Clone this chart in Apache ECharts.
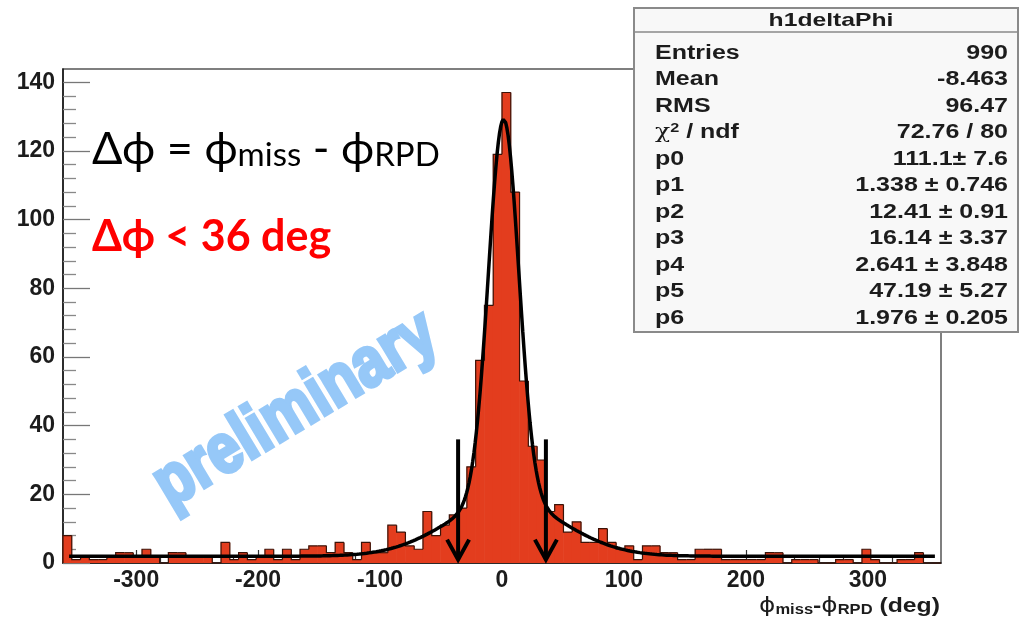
<!DOCTYPE html>
<html>
<head>
<meta charset="utf-8">
<script src="https://cdn.jsdelivr.net/npm/echarts@6/dist/echarts.min.js"></script>
<style>
html,body{margin:0;padding:0;background:#fff;}
#chart{width:1020px;height:619px;}
</style>
</head>
<body>
<div id="chart"></div>
<script>
// ---- data ----
const binLow = -360;          // first bin edge (deg)
const binWidth = 7.2;         // 100 bins over [-360, 360]
const counts = [
  8,1,2,1,1,2,3,3,2,4,
  2,0,3,3,2,2,2,0,6,1,
  3,1,2,4,1,4,1,4,5,5,
  3,6,3,1,6,3,3,11,9,5,
  4,15,8,11,14,16,28,59,75,119,
  137,108,53,34,30,15,17,9,12,6,
  6,10,6,4,5,1,5,5,3,3,
  1,1,4,4,4,1,1,1,1,1,
  3,3,0,1,1,1,0,0,1,1,
  0,4,1,0,0,1,1,3,0,0
];
// fit: gaus(p0,p1,p2) + gaus(p3,p4,p5) + p6 (parameters from the stats box)
const fitParams = [111.1, 1.338, 12.41, 16.14, 2.641, 47.19, 1.976];
const fitRange = [-355, 355];
const cutArrows = [-36, 36];      // arrow x positions (deg)
const arrowTop = 36, arrowTip = 0.4;
const xMajorTicks = [-300,-200,-100,0,100,200,300];
const xMinorTicks = [-340,-320,-280,-260,-240,-220,-180,-160,-140,-120,-80,-60,-40,-20,20,40,60,80,120,140,160,180,220,240,260,280,320,340];
const yMajorTicks = [0,20,40,60,80,100,120,140];
const yMinorTicks = [4,8,12,16,24,28,32,36,44,48,52,56,64,68,72,76,84,88,92,96,104,108,112,116,124,128,132,136];
const statsTitle = 'h1deltaPhi';
const statsLabels = ['Entries','Mean','RMS','χ2 / ndf','p0','p1','p2','p3','p4','p5','p6'];
const statsValues = ['990','-8.463','96.47','72.76 / 80','111.1± 7.6','1.338 ± 0.746','12.41 ± 0.91','16.14 ± 3.37','2.641 ± 3.848','47.19 ± 5.27','1.976 ± 0.205'];

// ---- build series data ----
const binData = counts.map((c, i) => [binLow + i * binWidth, binLow + (i + 1) * binWidth, c]);
function fitFn(x) {
  const p = fitParams;
  return p[0] * Math.exp(-0.5 * Math.pow((x - p[1]) / p[2], 2)) +
         p[3] * Math.exp(-0.5 * Math.pow((x - p[4]) / p[5], 2)) + p[6];
}
const fitData = [];
for (let x = fitRange[0]; x <= fitRange[1] + 1e-9; x += 1) fitData.push([x, fitFn(x)]);

const FILL = '#e33d1e';
const TXT = '#1c1c1c';
const chart = echarts.init(document.getElementById('chart'), null, {renderer: 'canvas'});
const labelFont = {fontFamily: 'Liberation Sans, Arial, sans-serif', fontWeight: 'bold', fontSize: 23, color: TXT};

const statsGraphics = [];
const bx = 634, by = 8, bw = 384, bh = 324;
const SX = 1.25;
statsGraphics.push({type: 'rect', shape: {x: bx, y: by, width: bw, height: bh}, style: {fill: '#f8f8f8', stroke: '#8a8a8a', lineWidth: 2}, z: 100});
statsGraphics.push({type: 'line', shape: {x1: bx, y1: 32, x2: bx + bw, y2: 32}, style: {stroke: '#8a8a8a', lineWidth: 1.5}, z: 101});
statsGraphics.push({type: 'text', x: 831, y: 21, scaleX: 1.3, style: {text: statsTitle, font: 'bold 19px Liberation Sans', fill: TXT, textAlign: 'center', textVerticalAlign: 'middle'}, z: 102});
statsLabels.forEach((lab, i) => {
  const y = 53 + i * 26.5;
  let txt = lab, rich;
  if (lab.indexOf('χ2') === 0) {
    txt = '{chi|χ}{sup|2}{n| / ndf}';
    rich = {chi: {font: '20px DejaVu Serif', fill: TXT}, sup: {font: 'bold 13px Liberation Sans', fill: TXT, verticalAlign: 'top', padding: [0,0,8,0]}, n: {font: 'bold 20px Liberation Sans', fill: TXT}};
  }
  statsGraphics.push({type: 'text', x: 655, y: y, scaleX: SX, style: {text: txt, rich: rich, font: 'bold 20px Liberation Sans', fill: TXT, textAlign: 'left', textVerticalAlign: 'middle'}, z: 102});
  statsGraphics.push({type: 'text', x: 1008, y: y, scaleX: SX, style: {text: statsValues[i], font: 'bold 20px Liberation Sans', fill: TXT, textAlign: 'right', textVerticalAlign: 'middle'}, z: 102});
});

const option = {
  animation: false,
  backgroundColor: '#ffffff',
  grid: {left: 63, right: 79, top: 69, bottom: 56, show: true, borderColor: '#555', borderWidth: 1.5, backgroundColor: 'transparent'},
  xAxis: [{
    type: 'value', min: -360, max: 360, position: 'bottom',
    axisLine: {show: true, onZero: false, lineStyle: {color: '#111', width: 1.5}},
    axisTick: {show: true, inside: true, length: 13, customValues: xMajorTicks, lineStyle: {color: '#333', width: 1.2}},
    axisLabel: Object.assign({show: true, margin: 6, customValues: xMajorTicks}, labelFont),
    splitLine: {show: false}
  }, {
    type: 'value', min: -360, max: 360, position: 'bottom',
    axisLine: {show: false, onZero: false},
    axisTick: {show: true, inside: true, length: 7, customValues: xMinorTicks, lineStyle: {color: '#333', width: 1.2}},
    axisLabel: {show: false},
    splitLine: {show: false}
  }],
  yAxis: [{
    type: 'value', min: 0, max: 143.85, position: 'left',
    axisLine: {show: true, onZero: false, lineStyle: {color: '#111', width: 1.5}},
    axisTick: {show: true, inside: true, length: 27, customValues: yMajorTicks, lineStyle: {color: '#777', width: 1.3}},
    axisLabel: Object.assign({show: true, margin: 8, customValues: yMajorTicks}, labelFont),
    splitLine: {show: false}
  }, {
    type: 'value', min: 0, max: 143.85, position: 'left',
    axisLine: {show: false, onZero: false},
    axisTick: {show: true, inside: true, length: 13, customValues: yMinorTicks, lineStyle: {color: '#888', width: 1.3}},
    axisLabel: {show: false},
    splitLine: {show: false}
  }],
  series: [{
    type: 'custom', name: 'hist', xAxisIndex: 0, yAxisIndex: 0, z: 2,
    data: binData, encode: {x: [0, 1], y: 2},
    renderItem: function (params, api) {
      const a = api.coord([api.value(0), api.value(2)]);
      const b = api.coord([api.value(1), 0]);
      return {type: 'rect', shape: {x: a[0] - 0.3, y: a[1], width: b[0] - a[0] + 0.6, height: b[1] - a[1]}, style: {fill: FILL}};
    }
  }, {
    type: 'custom', name: 'outline', xAxisIndex: 0, yAxisIndex: 0, z: 3,
    data: binData, encode: {x: [0, 1], y: 2},
    renderItem: function (params, api) {
      const i = params.dataIndex;
      const prev = i > 0 ? counts[i - 1] : 0;
      const pts = [api.coord([api.value(0), prev]), api.coord([api.value(0), api.value(2)]), api.coord([api.value(1), api.value(2)])];
      if (i === counts.length - 1) pts.push(api.coord([api.value(1), 0]));
      return {type: 'polyline', shape: {points: pts}, style: {stroke: '#3b1308', lineWidth: 1.2, fill: null}};
    }
  }, {
    type: 'line', name: 'fit', xAxisIndex: 0, yAxisIndex: 0, z: 4,
    data: fitData, showSymbol: false, smooth: false,
    lineStyle: {color: '#000', width: 3.5}
  }, {
    type: 'custom', name: 'arrows', xAxisIndex: 0, yAxisIndex: 0, z: 5,
    data: cutArrows.map(x => [x, arrowTop, arrowTip]), encode: {x: 0, y: [1, 2]},
    renderItem: function (params, api) {
      const t = api.coord([api.value(0), api.value(1)]);
      const b = api.coord([api.value(0), api.value(2)]);
      return {type: 'group', children: [
        {type: 'line', shape: {x1: t[0], y1: t[1], x2: b[0], y2: b[1] - 2}, style: {stroke: '#000', lineWidth: 4}},
        {type: 'polyline', shape: {points: [[b[0] - 11, b[1] - 22], [b[0], b[1] - 2], [b[0] + 11, b[1] - 22]]}, style: {stroke: '#000', lineWidth: 4, fill: null, lineJoin: 'miter'}}
      ]};
    }
  }],
  graphic: [
    {type: 'text', x: 92, y: 120, z: 50, style: {
      text: '{m|Δϕ = ϕ}{s|miss}{m| - ϕ}{s|RPD}',
      rich: {
        m: {font: '45px Lato', fill: '#000', verticalAlign: 'bottom', lineHeight: 52},
        s: {font: '33px Lato', fill: '#000', verticalAlign: 'bottom', lineHeight: 44}
      }}},
    {type: 'text', x: 92, y: 216, z: 50, style: {text: 'Δϕ < 36 deg', font: 'bold 43px Lato', fill: '#ff0000'}},
    {type: 'text', x: 296, y: 410, rotation: 31 * Math.PI / 180, scaleX: 0.84, z: 50, style: {
      text: 'preliminary', font: 'bold 70px Liberation Sans', fill: '#96c8f8', stroke: '#96c8f8', lineWidth: 4,
      textAlign: 'center', textVerticalAlign: 'middle'}},
    {type: 'text', x: 940, y: 604, scaleX: 1.18, z: 50, style: {
      text: '{p|ϕ}{s|miss}{t|-}{p|ϕ}{s|RPD}{t| (deg)}', textAlign: 'right', textVerticalAlign: 'middle',
      rich: {
        p: {font: '21px DejaVu Sans', fill: TXT, verticalAlign: 'bottom', lineHeight: 26},
        t: {font: 'bold 21px Liberation Sans', fill: TXT, verticalAlign: 'bottom', lineHeight: 26},
        s: {font: 'bold 14px Liberation Sans', fill: TXT, verticalAlign: 'bottom', lineHeight: 14}
      }}}
  ].concat(statsGraphics)
};
chart.setOption(option);
</script>
</body>
</html>
